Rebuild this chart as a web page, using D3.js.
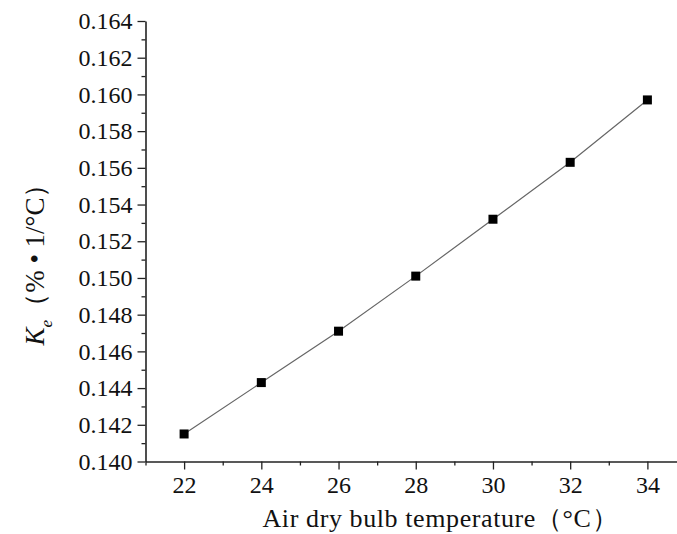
<!DOCTYPE html>
<html>
<head>
<meta charset="utf-8">
<script src="https://cdn.jsdelivr.net/npm/d3@7"></script>
<style>
  body { margin: 0; background: #fff; }
  svg text { font-family: "Liberation Serif", "Times New Roman", Times, "DejaVu Serif", serif; fill: #111; }
</style>
</head>
<body>
<div id="chart"></div>
<script>
"use strict";

const temps = [22, 24, 26, 28, 30, 32, 34];
const keValues = [0.1415, 0.1443, 0.1471, 0.1501, 0.1532, 0.1563, 0.1597];
const xTicks = [22, 24, 26, 28, 30, 32, 34];
const yTicks = [0.140, 0.142, 0.144, 0.146, 0.148, 0.150, 0.152, 0.154, 0.156, 0.158, 0.160, 0.162, 0.164];

const SERIF = '"Liberation Serif", "Times New Roman", Times, "DejaVu Serif", serif';

function _main() {
  const W = 677, H = 534;
  const svg = d3.select("#chart").append("svg").attr("width", W).attr("height", H);

  const xScale = d3.scaleLinear().domain([21, 35]).range([145.5, 686]);
  const yScale = d3.scaleLinear().domain([0.140, 0.164]).range([461.5, 21]);

  const data = temps.map((t, i) => ({ x: t, y: keValues[i] }));

  // line
  const lineGenerator = d3.line().x((d) => xScale(d.x)).y((d) => yScale(d.y));
  svg.append("path")
    .datum(data)
    .attr("d", lineGenerator)
    .attr("fill", "none")
    .attr("stroke", "#666")
    .attr("stroke-width", 1.2);

  // markers
  const S = 9;
  svg.selectAll("rect.pt")
    .data(data)
    .enter()
    .append("rect")
    .attr("class", "pt")
    .attr("x", (d) => xScale(d.x) - S / 2)
    .attr("y", (d) => yScale(d.y) - S / 2)
    .attr("width", S)
    .attr("height", S)
    .attr("fill", "#000");

  addAxes(svg, xScale, yScale);
}

function addAxes(svg, xScale, yScale) {
  const x0 = xScale.range()[0], y0 = yScale.range()[0];

  // minor ticks first
  const xMinor = d3.range(21, 36, 1).filter((v) => v % 2 === 1);
  svg.append("g")
    .attr("transform", `translate(0, ${y0})`)
    .call(d3.axisBottom(xScale).tickValues(xMinor).tickSize(4).tickFormat(""))
    .call((g) => g.select(".domain").remove());

  const yMinor = d3.range(0, 12).map((i) => 0.141 + i * 0.002);
  svg.append("g")
    .attr("transform", `translate(${x0}, 0)`)
    .call(d3.axisLeft(yScale).tickValues(yMinor).tickSize(4).tickFormat(""))
    .call((g) => g.select(".domain").remove());

  // bottom axis
  svg.append("g")
    .attr("class", "x-axis")
    .attr("transform", `translate(0, ${y0})`)
    .call(d3.axisBottom(xScale).tickValues(xTicks).tickSize(8).tickSizeOuter(0).tickPadding(6).tickFormat(d3.format("d")));

  // left axis
  svg.append("g")
    .attr("class", "y-axis")
    .attr("transform", `translate(${x0}, 0)`)
    .call(d3.axisLeft(yScale).tickValues(yTicks).tickSize(8).tickSizeOuter(0).tickPadding(5).tickFormat(d3.format(".3f")));

  svg.selectAll("g").attr("font-family", SERIF);
  svg.selectAll(".tick line").attr("stroke", "#222").attr("stroke-width", 1.3);
  svg.selectAll(".domain").attr("stroke", "#222").attr("stroke-width", 1.6);
  svg.selectAll(".tick text")
    .attr("font-size", 24)
    .attr("fill", "#111");

  // x title
  svg.append("text")
    .attr("x", 440)
    .attr("y", 527)
    .attr("text-anchor", "middle")
    .attr("font-size", 26)
    .attr("textLength", 355)
    .text("Air dry bulb temperature（°C）");

  // y title
  const yt = svg.append("text")
    .attr("transform", "translate(44, 258) rotate(-90)")
    .attr("text-anchor", "middle")
    .attr("font-size", 27);
  yt.append("tspan").attr("font-style", "italic").text("K");
  yt.append("tspan").attr("font-style", "italic").attr("font-size", 17).attr("dy", 8).text("e");
  yt.append("tspan").attr("dy", -8).text("（% • 1/°C）");
}

_main();
</script>
</body>
</html>
